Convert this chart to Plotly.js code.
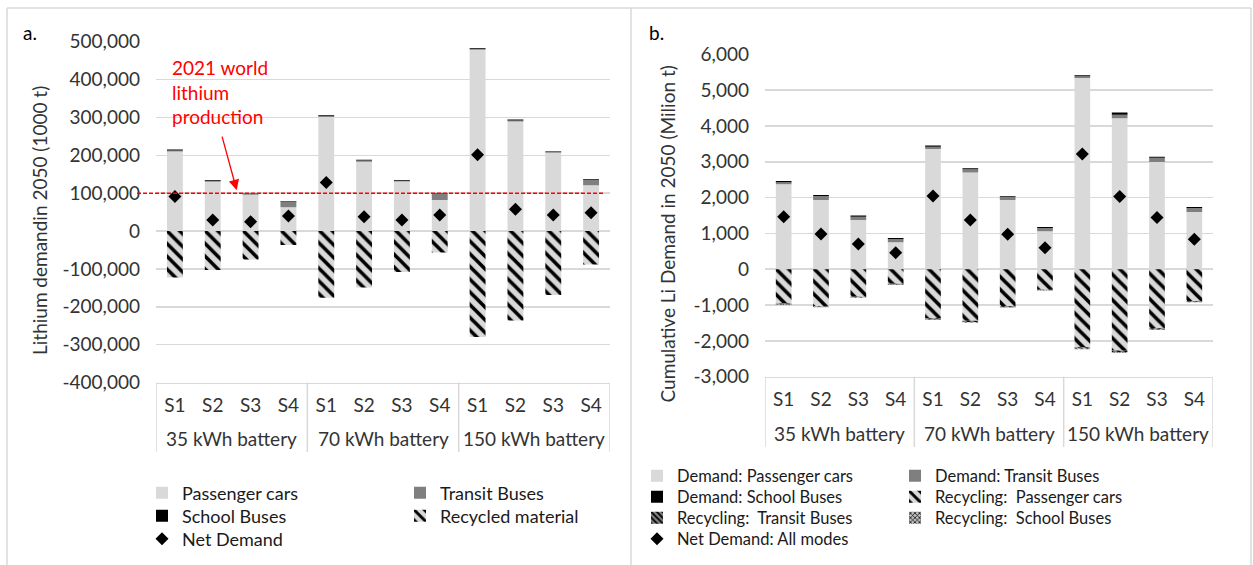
<!DOCTYPE html>
<html>
<head>
<meta charset="utf-8">
<script src="https://cdn.plot.ly/plotly-3.0.1.min.js"></script>
<style>html,body{margin:0;padding:0;background:#fff;}#chart{width:1253px;height:565px;}</style>
</head>
<body>
<div id="chart"></div>
<script>
// ---------- DATA ----------
const groups = ['35 kWh battery','35 kWh battery','35 kWh battery','35 kWh battery',
                '70 kWh battery','70 kWh battery','70 kWh battery','70 kWh battery',
                '150 kWh battery','150 kWh battery','150 kWh battery','150 kWh battery'];
const scenarios = ['S1','S2','S3','S4','S1','S2','S3','S4','S1','S2','S3','S4'];

// Panel a: Lithium demand in 2050 (1000 t)
const aPassenger = [210000, 130000, 96000, 63000, 301000, 183000, 131000, 82000, 479000, 289000, 207000, 121000];
const aTransit   = [2500, 3000, 3000, 15000, 3000, 3000, 2000, 16500, 2500, 3000, 2500, 13500];
const aSchool    = [2500, 2000, 1000, 1500, 2000, 2000, 1500, 1500, 2000, 2500, 1000, 2500];
const aRecycled  = [-123000, -103000, -75000, -37000, -176000, -149000, -108000, -56500, -280000, -236000, -169000, -88500];
const aNet       = [91000, 29000, 24700, 39800, 128000, 38000, 29000, 42400, 201600, 57500, 42400, 48500];
const worldProduction2021 = 100000;
const aTickVals = [-400000,-300000,-200000,-100000,0,100000,200000,300000,400000,500000];
const aTickText = ['-400,000','-300,000','-200,000','-100,000','0','100,000','200,000','300,000','400,000','500,000'];

// Panel b: Cumulative Li demand in 2050 (Milion t)
const bPassenger    = [2370, 1935, 1376, 754, 3358, 2697, 1935, 1061, 5341, 4215, 2995, 1600];
const bTransit      = [58, 110, 90, 90, 58, 93, 83, 90, 45, 100, 118, 110];
const bSchool       = [37, 29, 31, 30, 35, 30, 20, 30, 30, 57, 30, 29];
const bRecPassenger = [-960, -1030, -765, -405, -1370, -1440, -1035, -570, -2180, -2270, -1645, -885];
const bRecTransit   = [-25, -20, -18, -20, -30, -35, -25, -18, -35, -40, -32, -24];
const bRecSchool    = [-12, -11, -10, -13, -15, -15, -11, -9, -18, -18, -17, -12];
const bNet          = [1468, 985, 706, 463, 2046, 1376, 977, 603, 3219, 2027, 1441, 837];
const bTickVals = [-3000,-2000,-1000,0,1000,2000,3000,4000,5000,6000];
const bTickText = ['-3,000','-2,000','-1,000','0','1,000','2,000','3,000','4,000','5,000','6,000'];

// ---------- LAYOUT HELPERS ----------
const W = 1253, H = 565;
const px = x => x / W;
const py = y => 1 - y / H;
const FONT = 'Lato, "Open Sans", sans-serif';
const TXT = '#333333';
const GRID = '#d9d9d9';
const LIGHT = '#d9d9d9', MID = '#7f7f7f', DARK = '#000000';

// unique category keys (group + scenario), labelled with the scenario only
const catKeys = groups.map((g, i) => g + ' | ' + scenarios[i]);

// group spans (index ranges) derived from the groups array
const groupSpans = [];
groups.forEach((g, i) => {
  const last = groupSpans[groupSpans.length - 1];
  if (last && last.name === g) last.end = i; else groupSpans.push({name: g, start: i, end: i});
});
const boundaries = [-0.5].concat(groupSpans.map(s => s.end + 0.5));

const traces = [
  // Panel a
  {type:'bar', name:'Passenger cars', x:catKeys, y:aPassenger, xaxis:'x', yaxis:'y', legend:'legend',
   marker:{color:LIGHT}},
  {type:'bar', name:'Transit Buses', x:catKeys, y:aTransit, xaxis:'x', yaxis:'y', legend:'legend',
   marker:{color:MID}},
  {type:'bar', name:'School Buses', x:catKeys, y:aSchool, xaxis:'x', yaxis:'y', legend:'legend2',
   marker:{color:DARK}},
  {type:'bar', name:'Recycled material', x:catKeys, y:aRecycled, xaxis:'x', yaxis:'y', legend:'legend2',
   marker:{color:LIGHT, pattern:{shape:'\\', fgcolor:'#000', bgcolor:LIGHT, size:9, solidity:0.4}}},
  {type:'scatter', mode:'markers', name:'Net Demand', x:catKeys, y:aNet, xaxis:'x', yaxis:'y', legend:'legend3',
   marker:{symbol:'diamond', color:'#000', size:10}},
  // Panel b
  {type:'bar', name:'Demand: Passenger cars', x:catKeys, y:bPassenger, xaxis:'x2', yaxis:'y2', legend:'legend4',
   marker:{color:LIGHT}},
  {type:'bar', name:'Demand: Transit Buses', x:catKeys, y:bTransit, xaxis:'x2', yaxis:'y2', legend:'legend4',
   marker:{color:MID}},
  {type:'bar', name:'Demand: School Buses', x:catKeys, y:bSchool, xaxis:'x2', yaxis:'y2', legend:'legend5',
   marker:{color:DARK}},
  {type:'bar', name:'Recycling:\u00a0 Passenger cars', x:catKeys, y:bRecPassenger, xaxis:'x2', yaxis:'y2', legend:'legend5',
   marker:{color:LIGHT, pattern:{shape:'\\', fgcolor:'#000', bgcolor:LIGHT, size:9, solidity:0.4}}},
  {type:'bar', name:'Recycling:\u00a0 Transit Buses', x:catKeys, y:bRecTransit, xaxis:'x2', yaxis:'y2', legend:'legend6',
   marker:{color:MID, pattern:{shape:'\\', fgcolor:'#000', bgcolor:MID, size:5, solidity:0.45}}},
  {type:'bar', name:'Recycling:\u00a0 School Buses', x:catKeys, y:bRecSchool, xaxis:'x2', yaxis:'y2', legend:'legend6',
   marker:{color:'#555', pattern:{shape:'x', fgcolor:'#000', bgcolor:'#bfbfbf', size:4, solidity:0.4}}},
  {type:'scatter', mode:'markers', name:'Net Demand: All modes', x:catKeys, y:bNet, xaxis:'x2', yaxis:'y2', legend:'legend7',
   marker:{symbol:'diamond', color:'#000', size:10}}
];

function xAxis(d0, d1, anchor) {
  return {type:'category', domain:[px(d0), px(d1)], anchor:anchor, range:[-0.5, catKeys.length - 0.5],
    tickmode:'array', tickvals:catKeys, ticktext:scenarios,
    showline:true, linecolor:GRID, linewidth:1.5, showgrid:false, ticks:'', ticklabelstandoff:5,
    tickfont:{family:FONT, size:19, color:TXT}};
}
function yAxis(y0, y1, anchor, range, tv, tt) {
  return {domain:[py(y0), py(y1)], anchor:anchor, range:range,
    tickmode:'array', tickvals:tv, ticktext:tt, showline:false, zeroline:false,
    showgrid:true, gridcolor:GRID, gridwidth:1.5, ticks:'', ticklabelstandoff:15,
    tickfont:{family:FONT, size:19, color:TXT}};
}
function legendRow(xLeft, yCenter, size) {
  return {orientation:'h', x:px(xLeft), xanchor:'left', y:py(yCenter), yanchor:'middle',
    xref:'paper', yref:'paper', entrywidth:213, entrywidthmode:'pixels', traceorder:'normal',
    bgcolor:'rgba(0,0,0,0)', borderwidth:0, font:{family:FONT, size:size, color:'#1a1a1a'}};
}

const shapes = [
  {type:'line', xref:'paper', yref:'paper', x0:px(7), x1:px(1251), y0:py(8), y1:py(8), line:{color:GRID, width:1.5}},
  {type:'line', xref:'paper', yref:'paper', x0:px(7), x1:px(7), y0:py(8), y1:py(566), line:{color:GRID, width:1.5}},
  {type:'line', xref:'paper', yref:'paper', x0:px(631), x1:px(631), y0:py(8), y1:py(566), line:{color:GRID, width:1.5}},
  {type:'line', xref:'paper', yref:'paper', x0:px(1251), x1:px(1251), y0:py(8), y1:py(566), line:{color:GRID, width:1.5}},
  {type:'line', xref:'paper', yref:'y', x0:px(137), x1:px(603), y0:worldProduction2021, y1:worldProduction2021,
   line:{color:'#ff0000', width:1.5, dash:'4px,2px'}}
];
const annotations = [
  {xref:'paper', yref:'paper', x:px(30), y:py(33), text:'a.', showarrow:false, xanchor:'center', yanchor:'middle',
   font:{family:FONT, size:19, color:'#000'}},
  {xref:'paper', yref:'paper', x:px(656), y:py(33), text:'b.', showarrow:false, xanchor:'center', yanchor:'middle',
   font:{family:FONT, size:19, color:'#000'}},
  {xref:'paper', yref:'paper', x:px(39), y:py(221), text:'Lithium demandin 2050 (1000 t)', textangle:-90,
   showarrow:false, xanchor:'center', yanchor:'middle', font:{family:FONT, size:19, color:TXT}},
  {xref:'paper', yref:'paper', x:px(667), y:py(233.5), text:'Cumulative Li Demand in 2050 (Milion t)', textangle:-90,
   showarrow:false, xanchor:'center', yanchor:'middle', font:{family:FONT, size:19, color:TXT}},
  {xref:'paper', yref:'paper', x:px(170), y:py(54), text:'2021 world<br>lithium<br>production', align:'left',
   showarrow:false, xanchor:'left', yanchor:'top', font:{family:FONT, size:19, color:'#ff0000'}},
  {xref:'paper', yref:'y', x:px(236.7), y:108000, text:'', showarrow:true, ax:-15, ay:-55,
   arrowcolor:'#ff0000', arrowwidth:1.3, arrowhead:2, arrowsize:1.6, font:{size:2}}
];

// group labels and divider lines of the category boxes
[['x', 382.5, 438, 452], ['x2', 376.7, 433.3, 447]].forEach(([xr, yTop, yLab, yBot]) => {
  groupSpans.forEach(s => {
    annotations.push({xref:xr, yref:'paper', x:(s.start + s.end) / 2, y:py(yLab), text:s.name,
      showarrow:false, xanchor:'center', yanchor:'middle', font:{family:FONT, size:19, color:TXT}});
  });
  boundaries.forEach(b => {
    shapes.push({type:'line', xref:xr, yref:'paper', x0:b, x1:b, y0:py(yTop), y1:py(yBot),
      line:{color:GRID, width:1.5}});
  });
});

const layout = {
  width: W, height: H,
  margin:{l:0, r:0, t:0, b:0, autoexpand:false},
  paper_bgcolor:'#fff', plot_bgcolor:'rgba(0,0,0,0)',
  barmode:'relative', bargap:0.58,
  font:{family:FONT, color:TXT},
  showlegend:true,
  xaxis: xAxis(156, 610, 'y'),
  yaxis: yAxis(382.5, 41.7, 'x', [-400000, 500000], aTickVals, aTickText),
  xaxis2: xAxis(765, 1213, 'y2'),
  yaxis2: yAxis(376.7, 54.3, 'x2', [-3000, 6000], bTickVals, bTickText),
  legend:  legendRow(142, 493, 18),
  legend2: legendRow(142, 516, 18),
  legend3: legendRow(142, 539, 18),
  legend4: legendRow(637, 476, 16.5),
  legend5: legendRow(637, 497, 16.5),
  legend6: legendRow(637, 518, 16.5),
  legend7: legendRow(637, 539, 16.5),
  shapes: shapes,
  annotations: annotations
};

Plotly.newPlot('chart', traces, layout, {displayModeBar:false, staticPlot:true});
</script>
</body>
</html>
